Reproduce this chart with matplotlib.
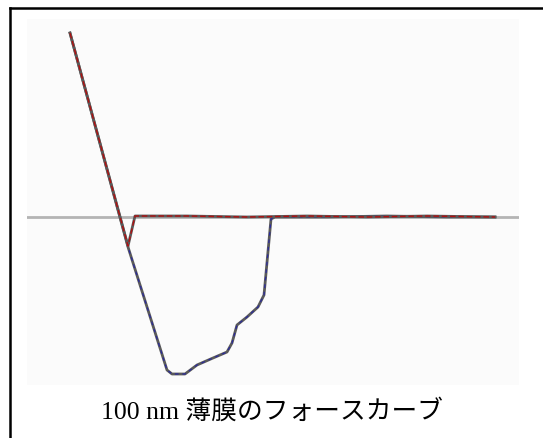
import matplotlib
matplotlib.use("Agg")
import matplotlib.pyplot as plt
from matplotlib.lines import Line2D

plt.rcParams['font.family'] = ['Liberation Serif', 'Noto Sans CJK JP']

# approach curve (distance, force) - arbitrary units
approach_x = [43, 101, 108, 160, 220, 280, 340, 400, 468]
approach_y = [184, -29, 1, 1, 0, 1, 0, 1, 0]

# retraction curve
retract_x = [43, 101, 140, 145, 158, 170, 186, 200, 205, 210, 220, 231, 237, 244, 248, 300, 360, 420, 468]
retract_y = [184, -30, -153, -157, -157, -148, -141, -135, -126, -108, -100, -90, -78, -2, 0, 0, 1, 0, 0]

caption = "100 nm 薄膜のフォースカーブ"

fig = plt.figure(figsize=(5.43, 4.38), dpi=100)
fig.patch.set_facecolor("white")
ax = fig.add_axes([27 / 543, 1 - 385 / 438, 492 / 543, 366 / 438])
ax.set_facecolor("#fbfbfb")
ax.set_xlim(0, 492)
ax.set_ylim(-168, 198)
for s in ax.spines.values():
    s.set_visible(False)
ax.set_xticks([])
ax.set_yticks([])

# zero-force baseline
ax.axhline(0, color="#b4b4b4", lw=2, zorder=1)

ax.plot(retract_x, retract_y, color="#5a5a5a", lw=2.0, zorder=2)
ax.plot(retract_x, retract_y, color="#2b2b9a", lw=0.9, ls=(0, (3, 3)), zorder=3)
ax.plot(approach_x, approach_y, color="#5a5a5a", lw=2.0, zorder=4)
ax.plot(approach_x, approach_y, color="#b01010", lw=1.0, ls=(0, (4, 2)), zorder=5)

# frame around the figure (top and left only visible)
fig.add_artist(Line2D([10 / 543, 1], [1 - 8 / 438, 1 - 8 / 438], color="black", lw=1.8))
fig.add_artist(Line2D([10 / 543, 10 / 543], [0, 1 - 8 / 438], color="black", lw=1.8))

fig.text(272 / 543, 1 - 411 / 438, caption, ha="center", va="center", fontsize=18.5)

fig.savefig("out.png", dpi=100)
